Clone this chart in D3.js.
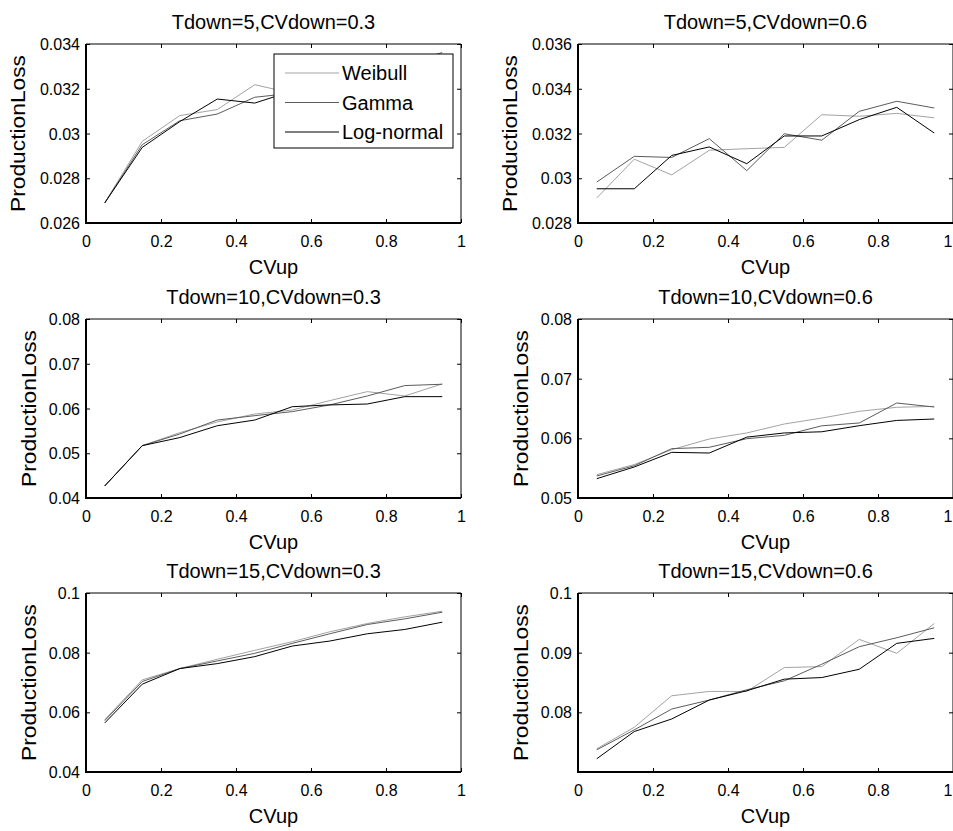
<!DOCTYPE html>
<html>
<head>
<meta charset="utf-8">
<script src="https://cdn.jsdelivr.net/npm/d3@7"></script>
<style>
  html, body { margin: 0; padding: 0; background: #fff; }
  svg { display: block; }
  text { font-family: "Liberation Sans", Arial, sans-serif; fill: #000; }
</style>
</head>
<body>
<svg id="chart" width="953" height="831"></svg>
<script>
// ---------------- data ----------------
const cvUp = [0.05, 0.15, 0.25, 0.35, 0.45, 0.55, 0.65, 0.75, 0.85, 0.95];
const xTicks = [0, 0.2, 0.4, 0.6, 0.8, 1];
const tdown = [5, 5, 10, 10, 15, 15];
const cvDown = [0.3, 0.6, 0.3, 0.6, 0.3, 0.6];
const yMin = [0.026, 0.028, 0.04, 0.05, 0.04, 0.07];
const yMax = [0.034, 0.036, 0.08, 0.08, 0.1, 0.1];
const yTicks = [
  [0.026, 0.028, 0.03, 0.032, 0.034],
  [0.028, 0.03, 0.032, 0.034, 0.036],
  [0.04, 0.05, 0.06, 0.07, 0.08],
  [0.05, 0.06, 0.07, 0.08],
  [0.04, 0.06, 0.08, 0.1],
  [0.08, 0.09, 0.1]
];
const seriesNames = ["Weibull", "Gamma", "Log-normal"];
const seriesColors = ["#a3a3a3", "#5c5c5c", "#000000"];

const weibull = [
  [0.0269, 0.02965, 0.0308, 0.03107, 0.03218, 0.0318, 0.0325, 0.0329, 0.0332, 0.0334],
  [0.02912, 0.03085, 0.03015, 0.03125, 0.03132, 0.03138, 0.03284, 0.03277, 0.0329, 0.0327],
  [0.0427, 0.0517, 0.0546, 0.0570, 0.05877, 0.05966, 0.06176, 0.06377, 0.0628, 0.0655],
  [0.05391, 0.0556, 0.0581, 0.05989, 0.0609, 0.0624, 0.0634, 0.06453, 0.0652, 0.06536],
  [0.05756, 0.07089, 0.07467, 0.07778, 0.08078, 0.08367, 0.087, 0.08978, 0.092, 0.09389],
  [0.07389, 0.0775, 0.08278, 0.0835, 0.0835, 0.0875, 0.08767, 0.09222, 0.08989, 0.09489]
];
const gamma = [
  [0.0269, 0.0295, 0.03057, 0.03087, 0.03162, 0.0318, 0.0323, 0.0327, 0.0331, 0.03362],
  [0.02983, 0.03098, 0.03093, 0.03177, 0.03034, 0.03199, 0.0317, 0.03299, 0.03344, 0.03314],
  [0.0427, 0.0517, 0.0543, 0.05742, 0.0584, 0.0593, 0.0608, 0.0628, 0.06512, 0.06542],
  [0.05369, 0.0554, 0.05827, 0.0585, 0.05994, 0.0605, 0.0621, 0.06257, 0.06592, 0.06525],
  [0.05722, 0.07033, 0.07467, 0.07722, 0.07978, 0.08311, 0.08633, 0.08944, 0.09133, 0.09356],
  [0.07372, 0.07706, 0.08056, 0.08206, 0.08378, 0.08528, 0.08806, 0.091, 0.0925, 0.09417]
];
const lognormal = [
  [0.0269, 0.02938, 0.03053, 0.03154, 0.03136, 0.0319, 0.0322, 0.0326, 0.0330, 0.0333],
  [0.02953, 0.02953, 0.03102, 0.0314, 0.03065, 0.03189, 0.03189, 0.03262, 0.03317, 0.03202],
  [0.0427, 0.0517, 0.0535, 0.05615, 0.05742, 0.0604, 0.0608, 0.0610, 0.06265, 0.06265],
  [0.05324, 0.0552, 0.05765, 0.05754, 0.0602, 0.0609, 0.0611, 0.06212, 0.0630, 0.06324],
  [0.05644, 0.06944, 0.07467, 0.07633, 0.07867, 0.08222, 0.08389, 0.08633, 0.08778, 0.09022],
  [0.07222, 0.07678, 0.07889, 0.08206, 0.08361, 0.08556, 0.08583, 0.08722, 0.09156, 0.09239]
];
const allSeries = [weibull, gamma, lognormal];

// ---------------- layout ----------------
const W = 953;
const colLeft = [86, 578];
const rowTop = [44, 319, 593];
const plotW = 375, plotH = 179;
const svg = d3.select("#chart");
const fmt = d => String(+d.toFixed(4));

for (let p = 0; p < 6; p++) {
  const left = colLeft[p % 2], top = rowTop[Math.floor(p / 2)];
  const x = d3.scaleLinear().domain([0, 1]).range([left, left + plotW]);
  const y = d3.scaleLinear().domain([yMin[p], yMax[p]]).range([top + plotH, top]);
  const g = svg.append("g");

  g.append("rect").attr("x", left).attr("y", top).attr("width", plotW).attr("height", plotH)
    .attr("fill", "#fff");

  // lines
  const line = d3.line().x((d, i) => x(cvUp[i])).y(d => y(d));
  allSeries.forEach((s, k) => {
    g.append("path").datum(s[p]).attr("d", line).attr("fill", "none")
      .attr("stroke", seriesColors[k]).attr("stroke-width", 1);
  });

  // axes with inward ticks
  const xAxis = d3.axisBottom(x).tickValues(xTicks).tickFormat(fmt).tickSizeInner(-4).tickSizeOuter(0);
  const gx = g.append("g").attr("transform", `translate(0,${top + plotH})`).call(xAxis);
  const yAxis = d3.axisLeft(y).tickValues(yTicks[p]).tickFormat(fmt).tickSizeInner(-4).tickSizeOuter(0);
  const gy = g.append("g").attr("transform", `translate(${left},0)`).call(yAxis);
  const xTop = d3.axisTop(x).tickValues(xTicks).tickFormat("").tickSizeInner(-4).tickSizeOuter(0);
  const gxt = g.append("g").attr("transform", `translate(0,${top})`).call(xTop);
  const yRight = d3.axisRight(y).tickValues(yTicks[p]).tickFormat("").tickSizeInner(-4).tickSizeOuter(0);
  const gyr = g.append("g").attr("transform", `translate(${left + plotW},0)`).call(yRight);

  [gx, gy, gxt, gyr].forEach(a => {
    a.selectAll(".domain").remove();
    a.selectAll(".tick line").attr("stroke", "#000").attr("stroke-width", 1);
    a.selectAll("text").attr("font-size", 16).attr("font-family", "Liberation Sans, Arial, sans-serif").attr("fill", "#000");
  });
  gx.selectAll(".tick text").attr("dy", null).attr("y", 24).attr("dominant-baseline", "auto")
    .each(function(d) {
      // keep the last label inside the page edge
      if (x(d) + 5 > W) d3.select(this).attr("text-anchor", "end").attr("x", W - 1 - x(d));
    });
  gy.selectAll(".tick text").attr("x", -6).attr("dy", null).attr("dominant-baseline", "central");

  // box frame
  g.append("line").attr("x1", left).attr("x2", left + plotW).attr("y1", top).attr("y2", top).attr("stroke", "#000").attr("stroke-width", 1);
  g.append("line").attr("x1", left + plotW).attr("x2", left + plotW).attr("y1", top).attr("y2", top + plotH).attr("stroke", "#000").attr("stroke-width", 1);
  g.append("line").attr("x1", left - 1).attr("x2", left + plotW).attr("y1", top + plotH).attr("y2", top + plotH).attr("stroke", "#000").attr("stroke-width", 2);
  g.append("line").attr("x1", left).attr("x2", left).attr("y1", top).attr("y2", top + plotH + 1).attr("stroke", "#000").attr("stroke-width", 2);

  // title
  g.append("text").attr("x", left + plotW / 2).attr("y", top - 15).attr("text-anchor", "middle")
    .attr("font-size", 20).text(`Tdown=${tdown[p]},CVdown=${cvDown[p]}`);
  // x label
  g.append("text").attr("x", left + plotW / 2).attr("y", top + plotH + 51).attr("text-anchor", "middle")
    .attr("font-size", 20).text("CVup");
  // y label
  const wideTicks = yTicks[p].some(t => fmt(t).length >= 5);
  const ylx = left - (wideTicks ? 61 : 50);
  g.append("text").attr("transform", `translate(${ylx},${top + plotH / 2}) rotate(-90)`)
    .attr("text-anchor", "middle").attr("font-size", 20)
    .attr("textLength", 157).attr("lengthAdjust", "spacingAndGlyphs").text("ProductionLoss");

  // legend in first panel
  if (p === 0) {
    const lg = g.append("g");
    lg.append("rect").attr("x", 274).attr("y", 54).attr("width", 179).attr("height", 94)
      .attr("fill", "#fff").attr("stroke", "#000").attr("stroke-width", 1);
    seriesNames.forEach((n, k) => {
      const ry = 73 + k * 29.5;
      lg.append("line").attr("x1", 285).attr("x2", 339).attr("y1", ry).attr("y2", ry)
        .attr("stroke", seriesColors[k]).attr("stroke-width", 1);
      lg.append("text").attr("x", 342).attr("y", ry).attr("dominant-baseline", "central")
        .attr("font-size", 20).text(n);
    });
  }
}
</script>
</body>
</html>
